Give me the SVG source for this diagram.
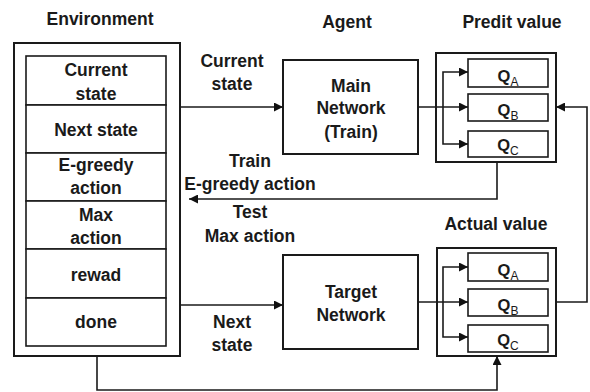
<svg xmlns="http://www.w3.org/2000/svg" width="590" height="392" viewBox="0 0 590 392">
  <defs>
    <marker id="arrow" viewBox="0 0 10 10" refX="10" refY="5" markerWidth="9" markerHeight="9" markerUnits="userSpaceOnUse" orient="auto">
      <path d="M0,0 L10,5 L0,10 Z" fill="#111"/>
    </marker>
    <style>
      .box { fill: #fff; stroke: #1a1a1a; stroke-width: 2; }
      .cell { fill: #fff; stroke: #1a1a1a; stroke-width: 1.6; }
      .line { fill: none; stroke: #1a1a1a; stroke-width: 1.6; }
      .arr { marker-end: url(#arrow); }
      text { font-family: "Liberation Sans", Arial, sans-serif; font-weight: bold; font-size: 17.5px; fill: #1a1a1a; text-anchor: middle; }
      .sub { font-weight: normal; font-size: 12px; }
      .q { font-size: 16.5px; }
    </style>
  </defs>
  <rect width="590" height="392" fill="#fff"/>

  <!-- section titles -->
  <text x="100" y="25">Environment</text>
  <text x="347" y="28">Agent</text>
  <text x="512" y="28">Predit value</text>
  <text x="496" y="230">Actual value</text>

  <!-- environment buffer -->
  <g id="environment">
    <rect class="box" x="14" y="43" width="166" height="313"/>
    <rect class="cell" x="26" y="56" width="140" height="49"/>
    <rect class="cell" x="26" y="105" width="140" height="48"/>
    <rect class="cell" x="26" y="153" width="140" height="48"/>
    <rect class="cell" x="26" y="201" width="140" height="48"/>
    <rect class="cell" x="26" y="249" width="140" height="49"/>
    <rect class="cell" x="26" y="298" width="140" height="48"/>
    <text x="96" y="76">Current</text>
    <text x="96" y="100">state</text>
    <text x="96" y="136">Next state</text>
    <text x="96" y="171">E-greedy</text>
    <text x="96" y="194">action</text>
    <text x="96" y="221">Max</text>
    <text x="96" y="244">action</text>
    <text x="96" y="281">rewad</text>
    <text x="96" y="328">done</text>
  </g>

  <!-- agent networks -->
  <g id="main-network">
    <rect class="box" x="283" y="60" width="135" height="94"/>
    <text x="351" y="92">Main</text>
    <text x="351" y="114">Network</text>
    <text x="351" y="138">(Train)</text>
  </g>
  <g id="target-network">
    <rect class="box" x="283" y="255" width="135" height="94"/>
    <text x="351" y="298">Target</text>
    <text x="351" y="321">Network</text>
  </g>

  <!-- Q-value outputs -->
  <g id="predit-value">
    <rect class="box" x="436" y="53" width="120" height="109"/>
    <rect class="cell" x="468" y="59" width="80" height="28"/>
    <rect class="cell" x="468" y="94" width="80" height="27"/>
    <rect class="cell" x="468" y="131" width="80" height="26"/>
    <text class="q" x="508" y="82">Q<tspan class="sub" dy="4">A</tspan></text>
    <text class="q" x="508" y="116">Q<tspan class="sub" dy="4">B</tspan></text>
    <text class="q" x="508" y="151">Q<tspan class="sub" dy="4">C</tspan></text>
  </g>
  <g id="actual-value">
    <rect class="box" x="437" y="248" width="119" height="108"/>
    <rect class="cell" x="468" y="253" width="80" height="28"/>
    <rect class="cell" x="468" y="289" width="80" height="27"/>
    <rect class="cell" x="468" y="325" width="80" height="27"/>
    <text class="q" x="508" y="276">Q<tspan class="sub" dy="4">A</tspan></text>
    <text class="q" x="508" y="311">Q<tspan class="sub" dy="4">B</tspan></text>
    <text class="q" x="508" y="346">Q<tspan class="sub" dy="4">C</tspan></text>
  </g>

  <!-- connectors -->
  <g id="connectors">
    <path class="line arr" d="M180,107 H283"/>
    <path class="line arr" d="M180,305 H283"/>
    <path class="line arr" d="M418,107 H468"/>
    <path class="line arr" d="M443,107 V72 H468"/>
    <path class="line arr" d="M443,107 V144 H468"/>
    <path class="line arr" d="M418,302 H468"/>
    <path class="line arr" d="M443,302 V267 H468"/>
    <path class="line arr" d="M443,302 V337 H468"/>
    <path class="line arr" d="M497,162 V199 H189"/>
    <path class="line arr" d="M556,302 H587 V107 H556"/>
    <path class="line arr" d="M97,356 V390 H497 V356"/>
  </g>

  <!-- connector labels -->
  <text x="232" y="67">Current</text>
  <text x="232" y="90">state</text>
  <text x="250" y="167">Train</text>
  <text x="250" y="190">E-greedy action</text>
  <text x="250" y="218">Test</text>
  <text x="250" y="242">Max action</text>
  <text x="232" y="328">Next</text>
  <text x="232" y="351">state</text>
</svg>
